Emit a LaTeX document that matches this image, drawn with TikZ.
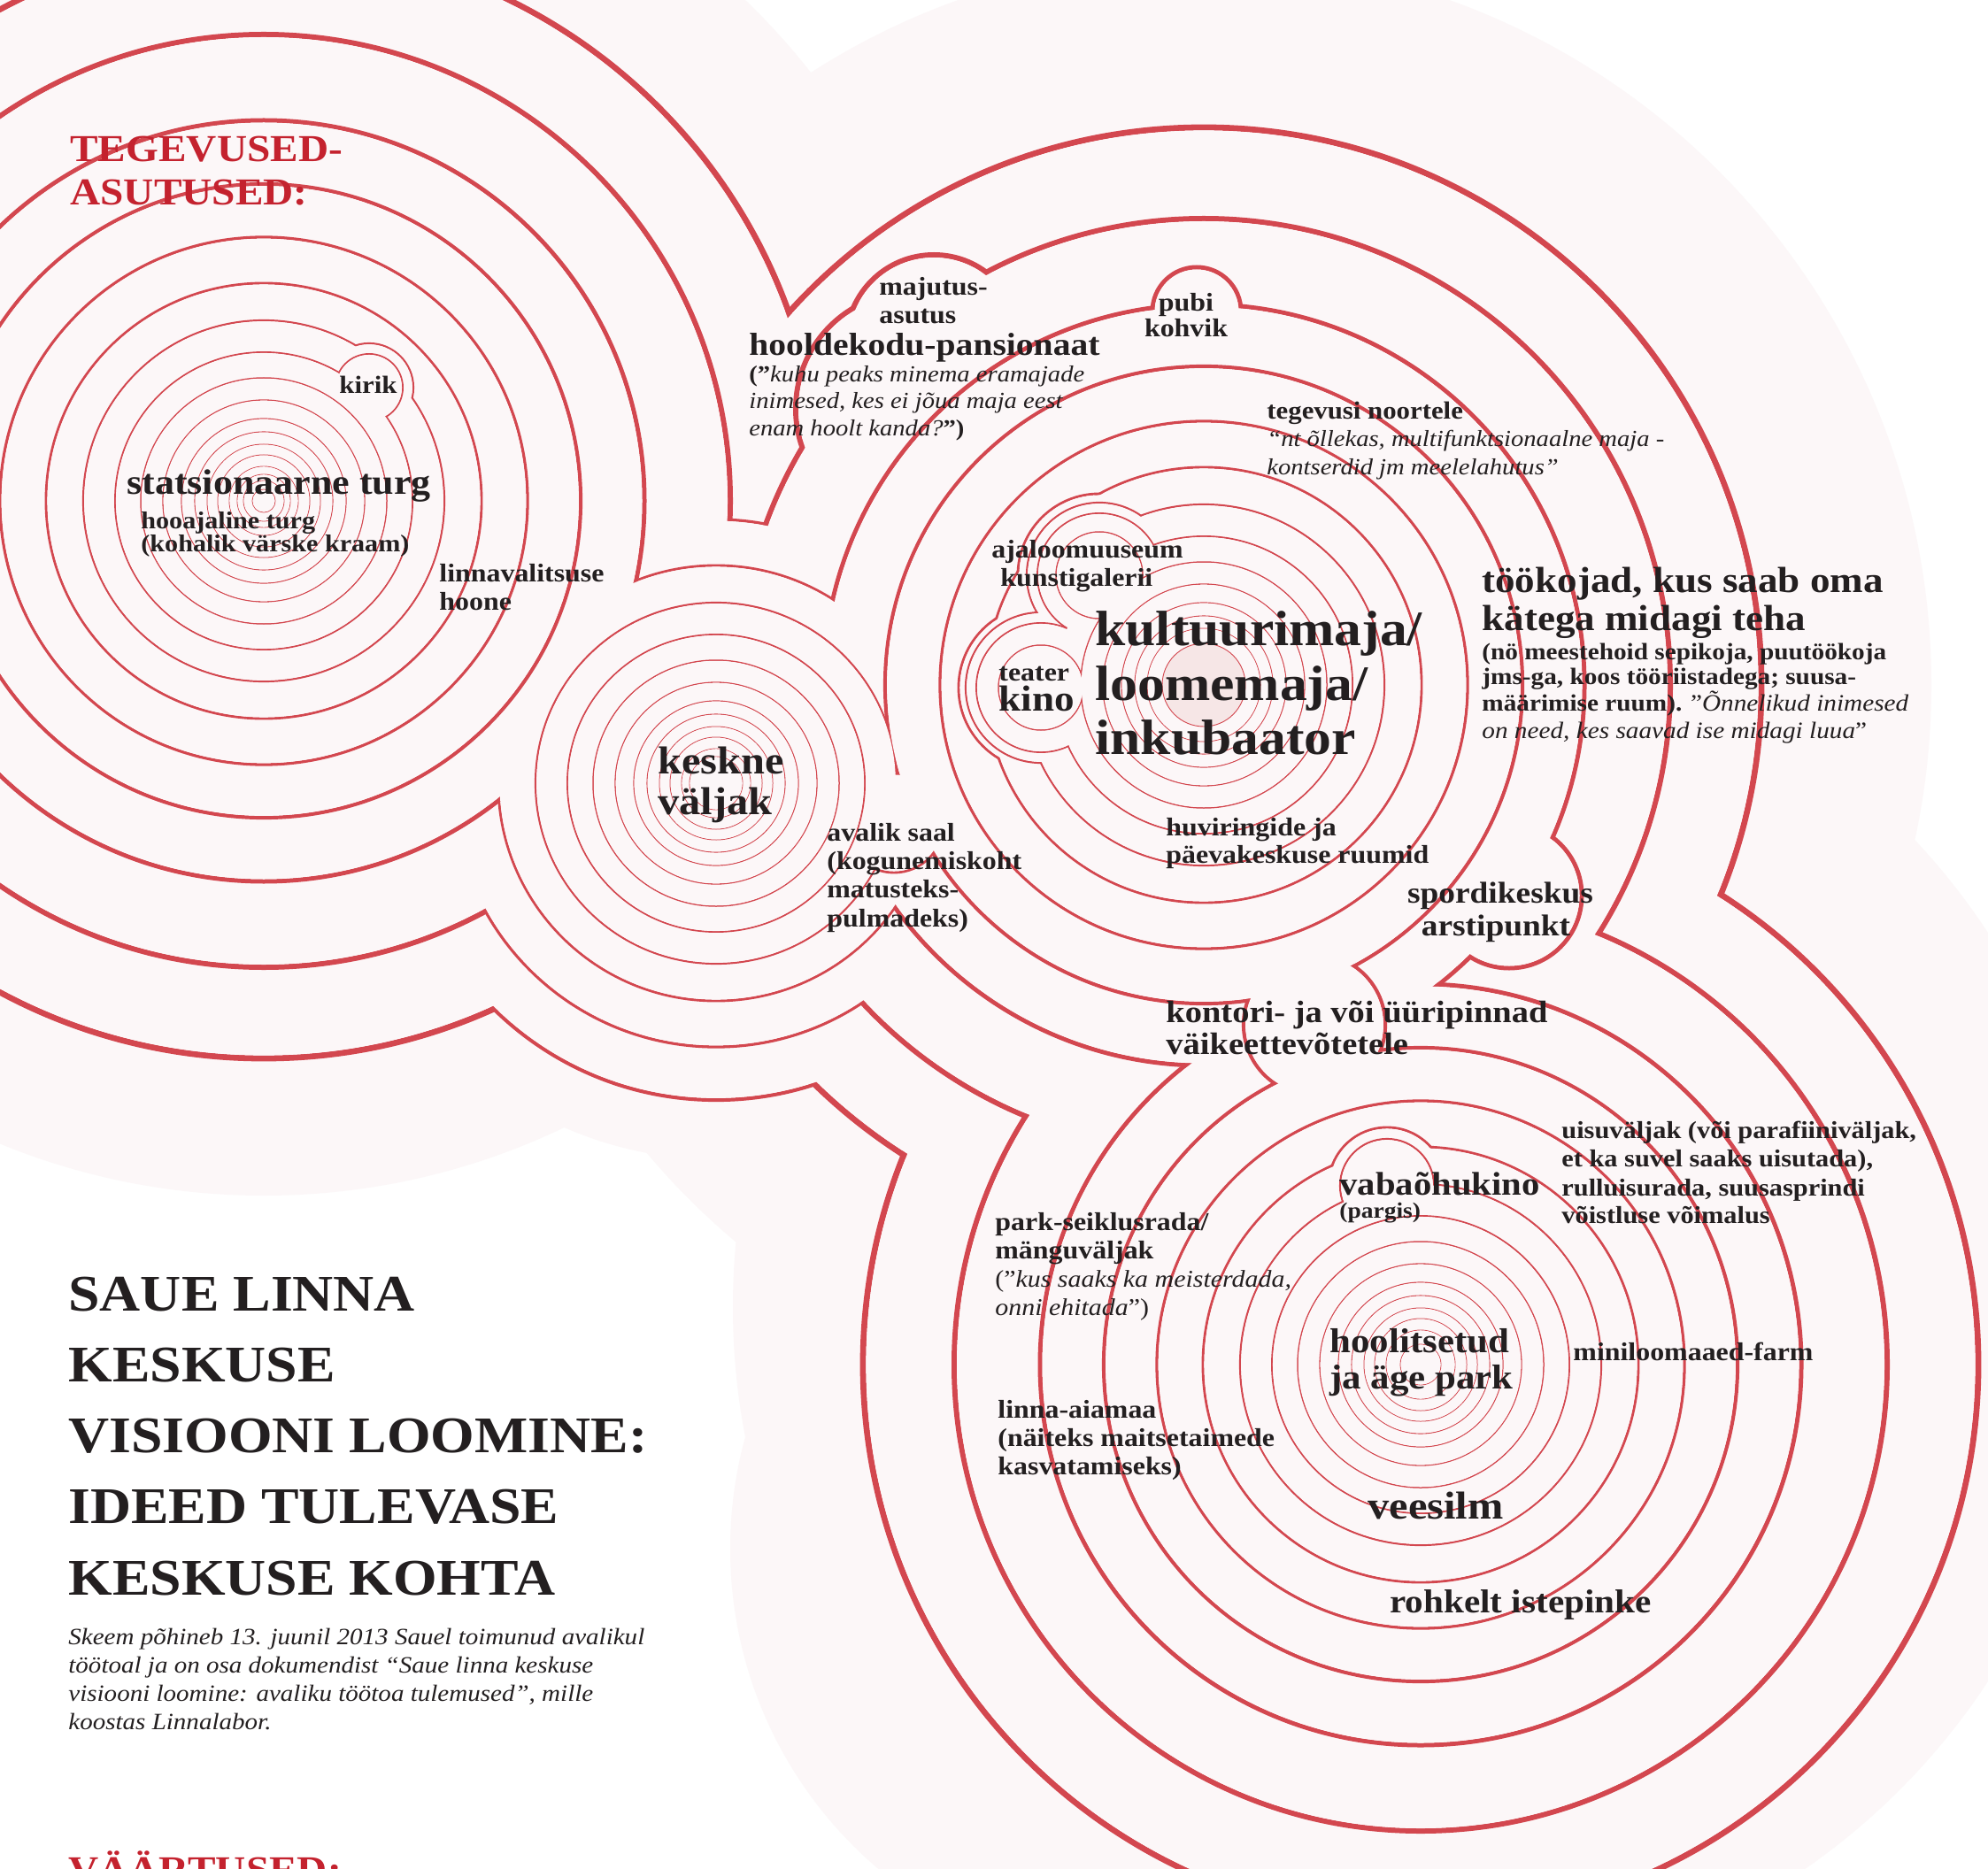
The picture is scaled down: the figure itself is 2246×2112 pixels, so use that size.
\documentclass[tikz,border=0pt]{standalone}
\usepackage{fontspec}
\setmainfont{Liberation Serif}[FakeStretch=1.1]
\definecolor{ringc}{HTML}{D3474F}
\definecolor{bgpink}{HTML}{FCF7F8}
\definecolor{discpink}{HTML}{F6E6E6}
\definecolor{txt}{HTML}{231F20}
\definecolor{redt}{HTML}{C4222E}
\newcommand\fsz[1]{\fontsize{#1}{#1}\selectfont}
\newcommand\ringlevel[1]{%
  \foreach \cx/\cy/\rr/\ww in {#1}{\draw[ringc, line width=\ww*0.5pt] (\cx,\cy) circle[radius=\rr];}%
  \foreach \cx/\cy/\rr/\ww in {#1}{\fill[bgpink] (\cx,\cy) circle[radius=\rr-\ww/2];}%
}
\tikzset{
  lab/.style={anchor=base west, inner sep=0pt, text=txt},
  labc/.style={anchor=base, inner sep=0pt, text=txt},
  small/.style={font=\fsz{14.5}\bfseries},
}
\begin{document}
\begin{tikzpicture}[x=0.5pt,y=-0.5pt]
\useasboundingbox (0,0) rectangle (2246,2112);
\clip (0,0) rectangle (2246,2112);
\fill[white] (0,0) rectangle (2246,2112);
% pale pink blob
\fill[bgpink] (298,566) circle[radius=785] (809,885) circle[radius=425]
  (1360,774) circle[radius=822] (1600,1477) circle[radius=772] (1300,1750) circle[radius=475];
% contour levels, outermost first
\ringlevel{298/566/630/6.8, 809/885/358/4.2, 1360/774/630/6.8, 1605/1542/630/6.8}
\ringlevel{298/566/527/6.0, 809/885/298/3.3, 1360/774/527/6.0, 1605/1542/527/6.0, 1031/462/132/6.0, 1055/387/99/6.0}
\ringlevel{298/566/430/5.0, 809/885/246/2.9, 1360/774/430/5.0, 1605/1542/430/5.0, 1352/352/50/5.0, 1705/1012/82/5.0}
\ringlevel{298/566/358/4.2, 809/885/204/2.2, 1360/774/360/4.2, 1605/1542/358/4.2, 1010/930/56/2.9, 1485/1158/80/4.2}
\ringlevel{298/566/298/3.3, 809/885/168/1.9, 1360/774/298/3.3, 1605/1542/298/3.3}
\ringlevel{298/566/246/2.9, 809/885/139/1.5, 1360/774/246/2.9, 1605/1542/246/2.9, 1242/650/92/2.9, 1176/777/93/2.9, 1567/1340/66/2.9}
\ringlevel{298/566/204/2.2, 809/885/114/1.3, 1360/774/204/2.2, 1605/1542/204/2.2, 417/438/50/2.2, 1242/650/82/2.2, 1176/777/85/2.2, 1567/1340/53/2.2}
\ringlevel{298/566/168/1.9, 809/885/93/1.2, 1360/774/168/1.9, 1605/1542/168/1.9, 417/438/38/1.9, 1242/650/70/1.9, 1176/777/73/1.9}
\ringlevel{298/566/139/1.5, 809/885/78/1.1, 1360/774/139/1.5, 1605/1542/139/1.5, 1242/650/49/1.5, 1176/777/48/1.5}
\ringlevel{298/566/114/1.3, 809/885/64/1.0, 1360/774/114/1.3, 1605/1542/114/1.3}
\ringlevel{298/566/93/1.2, 809/885/52/1.0, 1360/774/93/1.2, 1605/1542/93/1.2}
\ringlevel{298/566/78/1.1, 809/885/39/0.9, 1360/774/78/1.1, 1605/1542/78/1.1}
\ringlevel{298/566/64/1.0, 809/885/30/0.9, 1360/774/64/1.0, 1605/1542/64/1.0}
\ringlevel{298/566/52/1.0, 1605/1542/52/1.0}
\draw[ringc, line width=0.45pt, fill=discpink] (1360,774) circle[radius=47];
\ringlevel{298/566/39/0.9, 1605/1542/39/0.9}
\ringlevel{298/566/30/0.9}
\ringlevel{298/566/23/0.9, 1605/1542/23/0.9}
\ringlevel{298/566/13/0.9}
% headings
\node[lab, text=redt, font=\fsz{21.5}\bfseries] (h1) at (79,183) {TEGEVUSED-};
\node[lab, text=redt, font=\fsz{21.5}\bfseries] (h2) at (79,232) {ASUTUSED:};
\node[lab, text=redt, font=\fsz{21.5}\bfseries] (h3) at (77,2127) {VÄÄRTUSED:};
% group A labels
\node[lab, font=\fsz{20}\bfseries] (a1) at (143,559) {statsionaarne turg};
\node[lab, font=\fsz{13.7}\bfseries] (a2) at (159,597) {hooajaline turg};
\node[lab, font=\fsz{13.7}\bfseries] (a3) at (159,624) {(kohalik värske kraam)};
\node[lab, font=\fsz{14}\bfseries] (a4) at (383,445) {kirik};
\node[lab, small] (a5) at (496,657) {linnavalitsuse};
\node[lab, small] (a6) at (496,689) {hoone};
% hooldekodu
\node[lab, small] (m1) at (993,334) {majutus-};
\node[lab, small] (m2) at (993,366) {asutus};
\node[lab, font=\fsz{18}\bfseries] (hk1) at (846,402) {hooldekodu-pansionaat};
\node[lab, font=\fsz{13}] (hk2) at (846,432) {\textbf{(”}\textit{kuhu peaks minema eramajade}};
\node[lab, font=\fsz{13}\itshape] (hk3) at (846,462) {inimesed, kes ei jõua maja eest};
\node[lab, font=\fsz{13}] (hk4) at (846,493) {\textit{enam hoolt kanda?}\textbf{”)}};
\node[labc, small] (p1) at (1340,352) {pubi};
\node[labc, small] (p2) at (1340,381) {kohvik};
% keskne valjak
\node[lab, font=\fsz{22}\bfseries] (b1) at (743,874) {keskne};
\node[lab, font=\fsz{22}\bfseries] (b2) at (743,920) {väljak};
\node[lab, small] (v1) at (934,950) {avalik saal};
\node[lab, small] (v2) at (934,982) {(kogunemiskoht};
\node[lab, small] (v3) at (934,1014) {matusteks-};
\node[lab, small] (v4) at (934,1047) {pulmadeks)};
% kultuurimaja
\node[lab, small] (q1) at (1120,631) {ajaloomuuseum};
\node[lab, small] (q2) at (1130,662) {kunstigalerii};
\node[lab, small] (tk0) at (1128,769) {teater};
\node[lab, font=\fsz{20.5}\bfseries] (kn) at (1128,803) {kino};
\node[lab, font=\fsz{28}\bfseries] (c1) at (1237,729) {kultuurimaja/};
\node[lab, font=\fsz{28}\bfseries] (c2) at (1237,791) {loomemaja/};
\node[lab, font=\fsz{28}\bfseries] (c3) at (1237,852) {inkubaator};
\node[lab, small] (c4) at (1317,944) {huviringide ja};
\node[lab, small] (c5) at (1317,975) {päevakeskuse ruumid};
\node[lab, font=\fsz{14}\bfseries] (tn1) at (1431,474) {tegevusi noortele};
\node[lab, font=\fsz{13}\itshape] (tn2) at (1431,505) {“nt õllekas, multifunktsionaalne maja -};
\node[lab, font=\fsz{13}\itshape] (tn3) at (1431,537) {kontserdid jm meelelahutus”};
\node[lab, font=\fsz{20.5}\bfseries] (w1) at (1674,669) {töökojad, kus saab oma};
\node[lab, font=\fsz{20.5}\bfseries] (w2) at (1674,712) {kätega midagi teha};
\node[lab, font=\fsz{13.3}\bfseries] (w3) at (1674,745) {(nö meestehoid sepikoja, puutöökoja};
\node[lab, font=\fsz{13.3}\bfseries] (w4) at (1674,773) {jms-ga, koos tööriistadega; suusa-};
\node[lab, font=\fsz{13.3}] (w5) at (1674,803) {\textbf{määrimise ruum).} "\textit{Õnnelikud inimesed}};
\node[lab, font=\fsz{13.3}] (w6) at (1674,834) {\textit{on need, kes saavad ise midagi luua}"};
\node[labc, font=\fsz{17}\bfseries] (s1) at (1695,1020) {spordikeskus};
\node[labc, font=\fsz{17}\bfseries] (s2) at (1690,1057) {arstipunkt};
\node[lab, font=\fsz{17.5}\bfseries] (o1) at (1317,1155) {kontori- ja või üüripinnad};
\node[lab, font=\fsz{17.5}\bfseries] (o2) at (1317,1191) {väikeettevõtetele};
% park
\node[lab, font=\fsz{13.8}\bfseries] (u1) at (1764,1286) {uisuväljak (või parafiiniväljak,};
\node[lab, font=\fsz{13.8}\bfseries] (u2) at (1764,1318) {et ka suvel saaks uisutada),};
\node[lab, font=\fsz{13.8}\bfseries] (u3) at (1764,1351) {rulluisurada, suusasprindi};
\node[lab, font=\fsz{13.8}\bfseries] (u4) at (1764,1382) {võistluse võimalus};
\node[lab, font=\fsz{18.5}\bfseries] (k1) at (1513,1350) {vabaõhukino};
\node[lab, font=\fsz{12.5}\bfseries] (k2) at (1513,1376) {(pargis)};
\node[lab, small] (ps1) at (1124,1390) {park-seiklusrada/};
\node[lab, small] (ps2) at (1124,1422) {mänguväljak};
\node[lab, font=\fsz{13.6}] (ps3) at (1124,1454) {(”\textit{kus saaks ka meisterdada,}};
\node[lab, font=\fsz{13.6}] (ps4) at (1124,1486) {\textit{onni ehitada}”)};
\node[lab, font=\fsz{19.5}\bfseries] (d1) at (1502,1528) {hoolitsetud};
\node[lab, font=\fsz{19.5}\bfseries] (d2) at (1502,1569) {ja äge park};
\node[lab, small] (mf) at (1777,1537) {miniloomaaed-farm};
\node[lab, small] (la1) at (1127,1602) {linna-aiamaa};
\node[lab, small] (la2) at (1127,1634) {(näiteks maitsetaimede};
\node[lab, small] (la3) at (1127,1666) {kasvatamiseks)};
\node[lab, font=\fsz{22}\bfseries] (ve) at (1545,1716) {veesilm};
\node[lab, font=\fsz{18.7}\bfseries] (ro) at (1570,1822) {rohkelt istepinke};
% title
\node[lab, font=\fsz{29}\bfseries] (t1) at (77,1481) {SAUE LINNA};
\node[lab, font=\fsz{29}\bfseries] (t2) at (77,1561) {KESKUSE};
\node[lab, font=\fsz{29}\bfseries] (t3) at (77,1641) {VISIOONI LOOMINE:};
\node[lab, font=\fsz{29}\bfseries] (t4) at (77,1721) {IDEED TULEVASE};
\node[lab, font=\fsz{29}\bfseries] (t5) at (77,1802) {KESKUSE KOHTA};
\node[lab, font=\fsz{13.2}\itshape] (pa1) at (77,1858) {Skeem põhineb 13. juunil 2013 Sauel toimunud avalikul};
\node[lab, font=\fsz{13.2}\itshape] (pa2) at (77,1890) {töötoal ja on osa dokumendist “Saue linna keskuse};
\node[lab, font=\fsz{13.2}\itshape] (pa3) at (77,1922) {visiooni loomine: avaliku töötoa tulemused”, mille};
\node[lab, font=\fsz{13.2}\itshape] (pa4) at (77,1954) {koostas Linnalabor.};
\end{tikzpicture}
\end{document}
